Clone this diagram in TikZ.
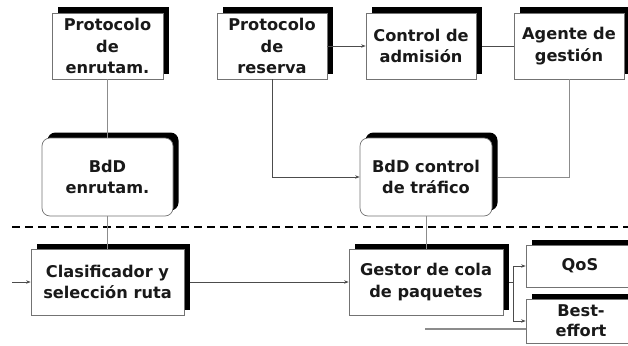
\documentclass[tikz,border=0pt]{standalone}
\usepackage{fontspec}
\setmainfont{DejaVu Sans}
\usetikzlibrary{shadows,arrows.meta}
\tikzset{
  blk/.style={draw=black!55, line width=0.7pt, fill=white, align=center,
    font=\bfseries\fontsize{16.2}{21.5}\selectfont, text=black!90, inner sep=0pt,
    drop shadow={shadow xshift=5.5pt, shadow yshift=5.5pt, fill=black, opacity=1}},
  rblk/.style={blk, rounded corners=8pt},
  conn/.style={draw=black!45, line width=0.8pt},
  arr/.style={conn, -{Stealth[length=4.5pt,width=3.5pt]}, draw=black!70},
}
\begin{document}
\begin{tikzpicture}[x=1pt,y=-1pt]
\useasboundingbox (0,0) rectangle (628,345);
% top row
\node[blk, minimum width=111, minimum height=66] (pe) at (107.5,46) {Protocolo\\de\\enrutam.};
\node[blk, minimum width=110, minimum height=66] (pr) at (272,46) {Protocolo\\de\\reserva};
\node[blk, minimum width=110, minimum height=66] (ca) at (421,46) {Control de\\admisión};
\node[blk, minimum width=110, minimum height=66] (ag) at (569,46) {Agente de\\gestión};
% databases
\node[rblk, minimum width=131, minimum height=78] (be) at (107.5,177) {BdD\\enrutam.};
\node[rblk, minimum width=132, minimum height=78] (bc) at (426,177) {BdD control\\de tráfico};
% dashed line
\coordinate (dl) at (12,227);
\coordinate (dr) at (628,227);
\draw[line width=2.6pt, dash pattern=on 8pt off 5pt] (dl) -- (dr);
% bottom row
\node[blk, minimum width=153, minimum height=66] (cl) at (107.5,282) {Clasificador y\\selección ruta};
\node[blk, minimum width=154, minimum height=66] (gc) at (426,282) {Gestor de cola\\de paquetes};
\node[blk, minimum width=108, minimum height=42] (qos) at (580,266) {QoS};
\node[blk, minimum width=110, minimum height=44, font=\bfseries\fontsize{16.2}{20}\selectfont] (bef) at (581,321) {Best-\\effort};
% connectors
\draw[conn] (pe.south) -- (be.north);
\draw[conn] (be.south) -- (cl.north);
\draw[conn] (bc.south) -- (gc.north);
\draw[arr] (pr.south) |- (bc.west);
\draw[arr] (pr.east) -- (ca.west);
\draw[conn, draw=black!70] (ca.east) ++(5.5,0) -- (ag.west);
\draw[conn] (ag.south) |- ([xshift=5.5pt]bc.east);
\coordinate (in) at (12,282);
\draw[arr] (in) -- (cl.west);
\draw[arr] ([xshift=5.5pt]cl.east) -- (gc.west);
\coordinate (sp) at (513,282);
\draw[conn, draw=black!70] ([xshift=5.5pt]gc.east) -- (sp);
\draw[arr] (sp) |- (qos.west);
\draw[arr] (sp) |- (bef.west);
\coordinate (gl) at (425,329);
\draw[line width=1.8pt, draw=black!45] (gl) -- (bef.west |- gl);
\end{tikzpicture}
\end{document}
